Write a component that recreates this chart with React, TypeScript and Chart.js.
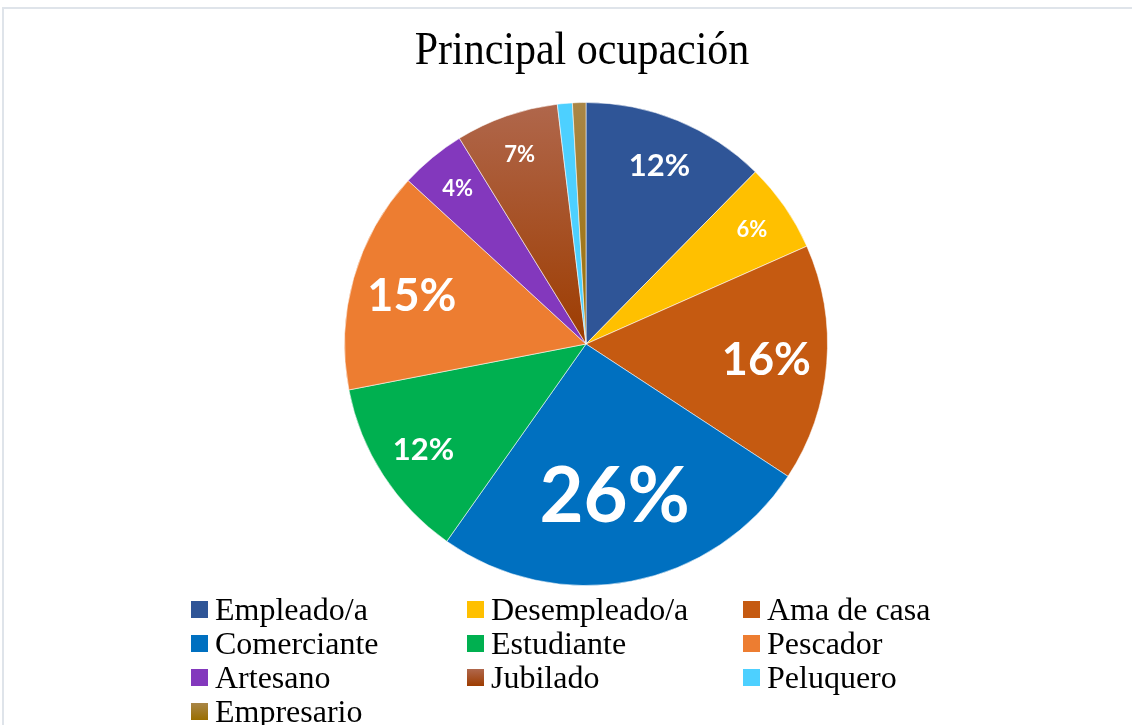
import React, { useEffect, useRef } from "react";
import { Chart, registerables } from "chart.js";

Chart.register(...registerables);

const titleText = "Principal ocupación";
const categories = [
  "Empleado/a",
  "Desempleado/a",
  "Ama de casa",
  "Comerciante",
  "Estudiante",
  "Pescador",
  "Artesano",
  "Jubilado",
  "Peluquero",
  "Empresario",
];
const values = [12.4, 6.0, 15.9, 25.6, 12.2, 14.9, 4.4, 6.9, 1.0, 0.9];

// style: [top colour, bottom colour] (equal for flat fills)
const sliceColors: [string, string][] = [
  ["#2F5597", "#2F5597"],
  ["#FFC000", "#FFC000"],
  ["#C55A11", "#C55A11"],
  ["#0070C0", "#0070C0"],
  ["#00B050", "#00B050"],
  ["#ED7D31", "#ED7D31"],
  ["#8338BD", "#8338BD"],
  ["#B0674C", "#9D3C00"],
  ["#4DD0FF", "#4DD0FF"],
  ["#A98647", "#9A6E00"],
];

const total = values.reduce((a, b) => a + b, 0);

function labelFontSize(pct: number): number {
  if (pct >= 20) return 76;
  if (pct >= 14) return 45;
  if (pct >= 10) return 31;
  return 22;
}

function makeFill(ctx: CanvasRenderingContext2D, i: number, y0: number, y1: number) {
  const [a, b] = sliceColors[i];
  if (a === b) return a;
  const g = ctx.createLinearGradient(0, y0, 0, y1);
  g.addColorStop(0, a);
  g.addColorStop(1, b);
  return g;
}

const decorPlugin = {
  id: "decor",
  beforeDraw(chart: any) {
    const ctx: CanvasRenderingContext2D = chart.ctx;
    ctx.save();
    ctx.fillStyle = "#ffffff";
    ctx.fillRect(0, 0, chart.width, chart.height);
    ctx.strokeStyle = "#dfe4ea";
    ctx.lineWidth = 2;
    ctx.strokeRect(3, 8, chart.width + 20, chart.height + 20);
    // title
    ctx.fillStyle = "#000000";
    ctx.font = '42px "Liberation Serif", "Times New Roman", serif';
    ctx.textAlign = "center";
    ctx.textBaseline = "alphabetic";
    ctx.translate(582, 64);
    ctx.scale(1, 1.08);
    ctx.fillText(titleText, 0, 0);
    ctx.restore();

    // legend
    ctx.save();
    const colX = [191, 467, 743];
    const rowY0 = 609.5;
    const rowStep = 34;
    ctx.font = '32px "Liberation Serif", "Times New Roman", serif';
    ctx.textAlign = "left";
    ctx.textBaseline = "alphabetic";
    categories.forEach((name, i) => {
      const col = i % 3;
      const row = Math.floor(i / 3);
      const x = colX[col];
      const y = rowY0 + row * rowStep;
      ctx.fillStyle = makeFill(ctx, i, y - 8.5, y + 8.5) as any;
      ctx.fillRect(x, y - 8.5, 17, 17);
      ctx.fillStyle = "#000000";
      ctx.fillText(name, x + 24, y + 10.5);
    });
    ctx.restore();
  },
  afterDatasetsDraw(chart: any) {
    const ctx: CanvasRenderingContext2D = chart.ctx;
    const meta = chart.getDatasetMeta(0);
    ctx.save();
    ctx.fillStyle = "#ffffff";
    ctx.textAlign = "center";
    ctx.textBaseline = "middle";
    meta.data.forEach((arc: any, i: number) => {
      const p = arc.getProps(["startAngle", "endAngle", "outerRadius", "x", "y"], true);
      const pct = Math.round((values[i] / total) * 100);
      if (pct < 2) return;
      const size = labelFontSize(pct);
      const mid = (p.startAngle + p.endAngle) / 2;
      const r = p.outerRadius - 20 - 0.9 * size;
      ctx.font = `bold ${size}px Lato, "Open Sans", sans-serif`;
      ctx.fillText(pct + "%", p.x + Math.cos(mid) * r, p.y + Math.sin(mid) * r + size * 0.04);
    });
    ctx.restore();
  },
};

export default function App() {
  const ref = useRef<HTMLCanvasElement | null>(null);
  useEffect(() => {
    if (!ref.current) return;
    const chart = new Chart(ref.current, {
      type: "pie",
      data: {
        labels: categories,
        datasets: [
          {
            data: values,
            backgroundColor: (c: any) => {
              const ch = c.chart;
              const area = ch.chartArea;
              if (!area) return sliceColors[c.dataIndex][1];
              const cy = (area.top + area.bottom) / 2;
              return makeFill(ch.ctx, c.dataIndex, area.top, cy);
            },
            borderColor: "rgba(255,255,255,0.55)",
            borderWidth: 1,
            hoverOffset: 0,
            offset: 0,
          },
        ],
      },
      options: {
        responsive: false,
        animation: false,
        devicePixelRatio: 1,
        layout: { padding: { top: 102, bottom: 139, left: 344, right: 304 } },
        plugins: {
          legend: { display: false },
          title: { display: false },
          tooltip: { enabled: false },
        },
        events: [],
      },
      plugins: [decorPlugin],
    });
    return () => chart.destroy();
  }, []);
  return (
    <div style={{ position: "absolute", left: 0, top: 0, width: 1132, height: 725 }}>
      <canvas ref={ref} width={1132} height={725} style={{ display: "block" }} />
    </div>
  );
}
